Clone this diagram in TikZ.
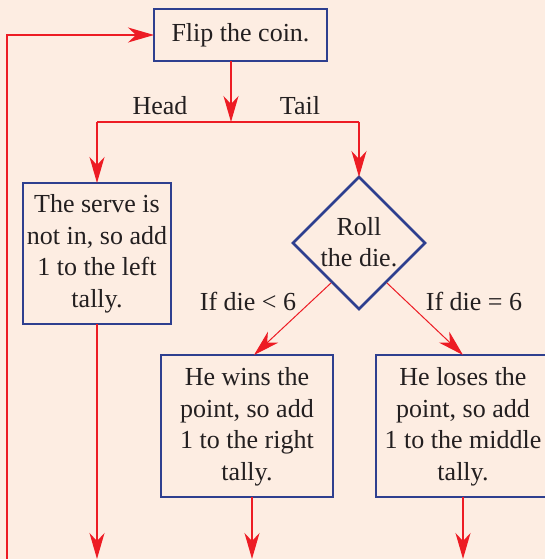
\documentclass[tikz,border=0pt]{standalone}
\usepackage{fontspec}
\setmainfont{Liberation Serif}
\usetikzlibrary{shapes.geometric,arrows.meta}
\definecolor{bgc}{HTML}{FDEDE2}
\definecolor{boxblue}{HTML}{2E3F8F}
\definecolor{linered}{HTML}{ED1C24}
\definecolor{txtc}{HTML}{231F20}
\begin{document}
\begin{tikzpicture}[x=1pt,y=-1pt,
  every node/.style={text=txtc,font=\fontsize{26}{31.5}\selectfont},
  boxnode/.style={draw=boxblue,line width=2.8pt,inner sep=0pt,outer sep=0pt},
  txtnode/.style={align=center,inner sep=0pt},
  lbl/.style={anchor=base,inner sep=0pt},
  diam/.style={draw=boxblue,line width=2.5pt,shape=diamond,minimum width=132pt,minimum height=132pt,inner sep=0pt,outer sep=0pt},
  conn/.style={draw=linered,line width=1.5pt},
  arr/.style={conn,-{Stealth[length=26pt,width=15pt,inset=8pt]}},
  thin/.style={draw=linered,line width=1pt,-{Stealth[length=26pt,width=15pt,inset=8pt]}}
]
\fill[bgc] (0,0) rectangle (545,559);
\useasboundingbox (0,0) rectangle (545,559);
\clip (0,0) rectangle (545,559);

% flip box
\node[boxnode,minimum width=173pt,minimum height=52pt] (flip) at (240.5,35) {};
\node[txtnode] (fliptxt) at (240.5,35) {Flip the coin.};

% junction
\coordinate (junc) at (231,122);
\coordinate (jl) at (97,122);
\coordinate (jr) at (359,122);

% left box
\node[boxnode,minimum width=148pt,minimum height=141pt] (lbox) at (97,253.5) {};
\node[txtnode] (ltxt) at (97,254) {The serve is\\not in, so add\\1 to the left\\tally.};

% diamond
\node[diam] (die) at (359,243) {};
\node[txtnode] (dietxt) at (359,242) {Roll\\the die.};

% middle box
\node[boxnode,minimum width=172pt,minimum height=142pt] (mbox) at (247,426) {};
\node[txtnode] (mtxt) at (247,427) {He wins the\\point, so add\\1 to the right\\tally.};

% right box
\node[boxnode,minimum width=174pt,minimum height=142pt] (rbox) at (463,426) {};
\node[txtnode] (rtxt) at (463,427) {He loses the\\point, so add\\1 to the middle\\tally.};

% labels
\node[lbl] (head) at (160,115) {Head};
\node[lbl] (tail) at (300,115) {Tail};
\node[lbl] (lt6) at (248,310) {If die < 6};
\node[lbl] (eq6) at (474,310) {If die = 6};

% connectors
\draw[arr] (flip.south -| junc) -- (junc);
\draw[conn] (jl) -- (jr);
\draw[arr] (jl) -- (lbox.north);
\draw[arr] (jr) -- (die.north);

\coordinate (dl) at (331,283);
\coordinate (dr) at (387,283);
\coordinate (mtop) at (254,355);
\coordinate (rtop) at (463,355);
\draw[thin] (dl) -- (mtop);
\draw[thin] (dr) -- (rtop);

\coordinate (bl) at (97,559);
\coordinate (bm) at (252,559);
\coordinate (br) at (463,559);
\draw[arr] (lbox.south) -- (bl);
\draw[arr] (mbox.south -| bm) -- (bm);
\draw[arr] (rbox.south) -- (br);

% loop back
\coordinate (lp1) at (7,559);
\coordinate (lp2) at (7,35);
\draw[arr] (lp1) -- (lp2) -- (flip.west);
\end{tikzpicture}
\end{document}
